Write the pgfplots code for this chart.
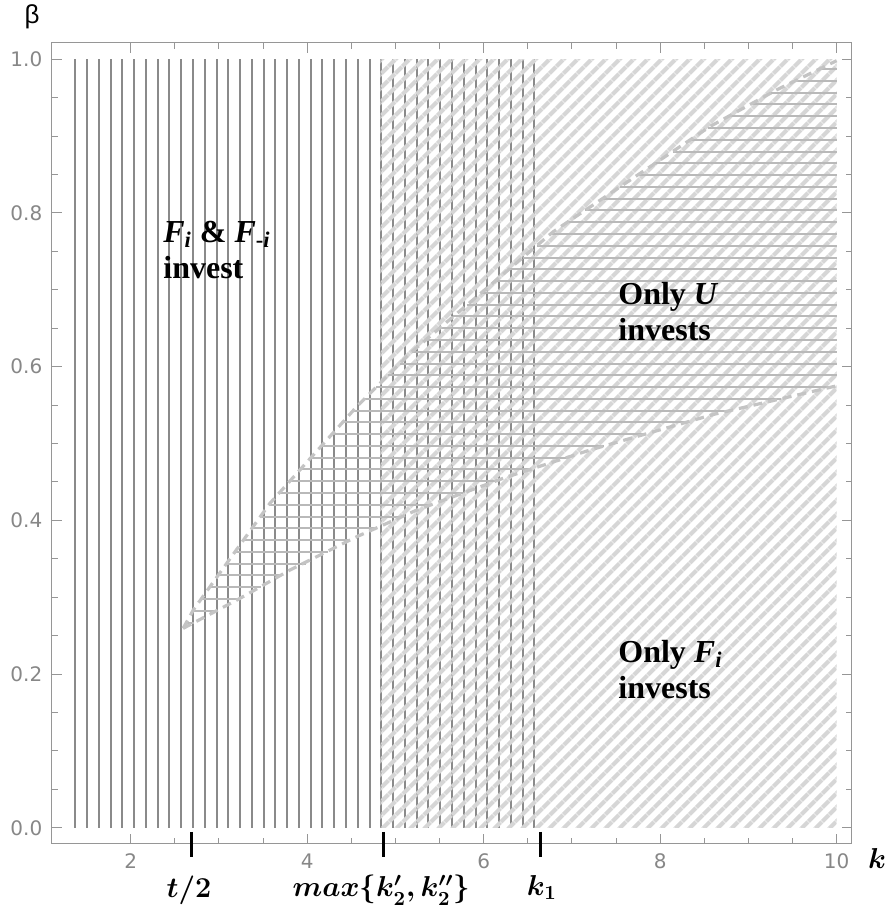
\documentclass[border=0pt]{standalone}
\usepackage[no-math]{fontspec}
\setmainfont{Liberation Serif}
\setsansfont{Liberation Sans}
\newfontfamily\tickfont{DejaVu Sans}
\usepackage{amsmath,amsbsy}
\usepackage{pgfplots}
\pgfplotsset{compat=1.18}
\usetikzlibrary{patterns.meta}
\definecolor{vline}{RGB}{138,138,138}
\definecolor{hline}{RGB}{185,185,185}
\definecolor{dline}{RGB}{214,214,214}
\definecolor{bline}{RGB}{196,196,196}
\definecolor{framec}{RGB}{150,150,150}
\definecolor{tickl}{RGB}{135,135,135}
\begin{document}
\begin{tikzpicture}
\useasboundingbox (0,0) rectangle (445.5pt,458.5pt);
\begin{axis}[
  at={(25.85pt,36.5pt)}, anchor=south west,
  scale only axis, width=400pt, height=400.5pt,
  xmin=1.105, xmax=10.17, ymin=-0.021, ymax=1.021,
  clip=false,
  unbounded coords=jump,
  axis line style={framec, line width=0.5pt},
  tick style={framec, line width=0.5pt},
  tick align=inside, tick pos=both,
  major tick length=5pt, minor tick length=3pt,
  xtick={2,4,6,8,10}, minor x tick num=3,
  ytick={0,0.2,0.4,0.6,0.8,1.0}, minor y tick num=3,
  /pgf/number format/assume math mode=true,
  yticklabel style={/pgf/number format/fixed, /pgf/number format/fixed zerofill, /pgf/number format/precision=1, xshift=-1.2pt},
  xticklabel style={yshift=-1.5pt},
  ticklabel style={font=\tickfont\fontsize{10}{12}\selectfont, text=tickl},
]
% vertical mesh lines
\addplot[vline, line width=1pt] coordinates {
(1.372,0) (1.372,1) (nan,nan) (1.505,0) (1.505,1) (nan,nan)
(1.639,0) (1.639,1) (nan,nan) (1.772,0) (1.772,1) (nan,nan)
(1.906,0) (1.906,1) (nan,nan) (2.039,0) (2.039,1) (nan,nan)
(2.172,0) (2.172,1) (nan,nan) (2.306,0) (2.306,1) (nan,nan)
(2.439,0) (2.439,1) (nan,nan) (2.573,0) (2.573,1) (nan,nan)
(2.706,0) (2.706,1) (nan,nan) (2.839,0) (2.839,1) (nan,nan)
(2.973,0) (2.973,1) (nan,nan) (3.106,0) (3.106,1) (nan,nan)
(3.240,0) (3.240,1) (nan,nan) (3.373,0) (3.373,1) (nan,nan)
(3.506,0) (3.506,1) (nan,nan) (3.640,0) (3.640,1) (nan,nan)
(3.773,0) (3.773,1) (nan,nan) (3.907,0) (3.907,1) (nan,nan)
(4.040,0) (4.040,1) (nan,nan) (4.173,0) (4.173,1) (nan,nan)
(4.307,0) (4.307,1) (nan,nan) (4.440,0) (4.440,1) (nan,nan)
(4.574,0) (4.574,1) (nan,nan) (4.707,0) (4.707,1) (nan,nan)
(4.840,0) (4.840,1) (nan,nan) (4.974,0) (4.974,1) (nan,nan)
(5.107,0) (5.107,1) (nan,nan) (5.241,0) (5.241,1) (nan,nan)
(5.374,0) (5.374,1) (nan,nan) (5.507,0) (5.507,1) (nan,nan)
(5.641,0) (5.641,1) (nan,nan) (5.774,0) (5.774,1) (nan,nan)
(5.908,0) (5.908,1) (nan,nan) (6.041,0) (6.041,1) (nan,nan)
(6.174,0) (6.174,1) (nan,nan) (6.308,0) (6.308,1) (nan,nan)
(6.441,0) (6.441,1) (nan,nan) (6.575,0) (6.575,1)
};
% diagonal hatched region
\addplot[draw=none, pattern={Lines[angle=45, distance=5.13pt, line width=2.4pt]}, pattern color=dline]
  coordinates {(4.83,0) (10,0) (10,1) (4.83,1)} -- cycle;
% horizontal mesh lines
\addplot[hline, line width=1pt] coordinates {
(2.630,0.2671) (2.719,0.2671) (nan,nan)
(2.705,0.2824) (2.971,0.2824) (nan,nan)
(2.799,0.2977) (3.224,0.2977) (nan,nan)
(2.894,0.3130) (3.477,0.3130) (nan,nan)
(2.990,0.3283) (3.730,0.3283) (nan,nan)
(3.085,0.3436) (3.982,0.3436) (nan,nan)
(3.181,0.3590) (4.235,0.3590) (nan,nan)
(3.277,0.3743) (4.488,0.3743) (nan,nan)
(3.373,0.3896) (4.775,0.3896) (nan,nan)
(3.470,0.4049) (5.075,0.4049) (nan,nan)
(3.566,0.4202) (5.403,0.4202) (nan,nan)
(3.682,0.4355) (5.767,0.4355) (nan,nan)
(3.802,0.4509) (6.130,0.4509) (nan,nan)
(3.922,0.4662) (6.524,0.4662) (nan,nan)
(4.042,0.4815) (6.936,0.4815) (nan,nan)
(4.161,0.4968) (7.365,0.4968) (nan,nan)
(4.281,0.5121) (7.828,0.5121) (nan,nan)
(4.401,0.5274) (8.290,0.5274) (nan,nan)
(4.521,0.5428) (8.790,0.5428) (nan,nan)
(4.650,0.5581) (9.365,0.5581) (nan,nan)
(4.783,0.5734) (9.939,0.5734) (nan,nan)
(4.916,0.5887) (10,0.5887) (nan,nan)
(5.050,0.6040) (10,0.6040) (nan,nan)
(5.186,0.6193) (10,0.6193) (nan,nan)
(5.343,0.6347) (10,0.6347) (nan,nan)
(5.500,0.6500) (10,0.6500) (nan,nan)
(5.657,0.6653) (10,0.6653) (nan,nan)
(5.815,0.6806) (10,0.6806) (nan,nan)
(5.972,0.6959) (10,0.6959) (nan,nan)
(6.129,0.7113) (10,0.7113) (nan,nan)
(6.286,0.7266) (10,0.7266) (nan,nan)
(6.443,0.7419) (10,0.7419) (nan,nan)
(6.600,0.7572) (10,0.7572) (nan,nan)
(6.757,0.7725) (10,0.7725) (nan,nan)
(6.948,0.7878) (10,0.7878) (nan,nan)
(7.147,0.8032) (10,0.8032) (nan,nan)
(7.345,0.8185) (10,0.8185) (nan,nan)
(7.544,0.8338) (10,0.8338) (nan,nan)
(7.743,0.8491) (10,0.8491) (nan,nan)
(7.942,0.8644) (10,0.8644) (nan,nan)
(8.141,0.8797) (10,0.8797) (nan,nan)
(8.340,0.8951) (10,0.8951) (nan,nan)
(8.539,0.9104) (10,0.9104) (nan,nan)
(8.776,0.9257) (10,0.9257) (nan,nan)
(9.018,0.9410) (10,0.9410) (nan,nan)
(9.261,0.9563) (10,0.9563) (nan,nan)
(9.528,0.9716) (10,0.9716) (nan,nan)
(9.802,0.9870) (10,0.9870)
};
% dashed boundaries
\addplot[bline, line width=1.6pt, dash pattern=on 4.5pt off 3pt] coordinates {
(2.594,0.2595) (2.709,0.2833) (3.088,0.3441) (3.578,0.4222) (4.561,0.5479)
(5.165,0.6173) (6.789,0.7756) (8.565,0.9124) (9.321,0.9601) (10,0.998)};
\addplot[bline, line width=1.6pt, dash pattern=on 4.5pt off 3pt] coordinates {
(2.594,0.2595) (3.238,0.2985) (3.805,0.3354) (4.561,0.3787) (5.244,0.4135)
(6.264,0.4565) (7.205,0.4915) (8.6,0.5377) (10,0.575)};
% thick annotation ticks
\addplot[black, line width=1.5pt] coordinates {(2.69,-0.0052) (2.69,-0.0385) (nan,nan) (4.86,-0.0052) (4.86,-0.0385) (nan,nan) (6.64,-0.0052) (6.64,-0.0385)};
% labels
\node[anchor=west, align=left, inner sep=0pt, font=\bfseries\fontsize{16}{18}\selectfont] at (axis cs:2.366,0.7518)
  {\textit{F}\textsubscript{\textit{i}} \& \textit{F}\textsubscript{-\textit{i}}\\invest};
\node[anchor=west, align=left, inner sep=0pt, font=\bfseries\fontsize{16}{18}\selectfont] at (axis cs:7.522,0.671)
  {Only \textit{U}\\invests};
\node[anchor=west, align=left, inner sep=0pt, font=\bfseries\fontsize{16}{18}\selectfont] at (axis cs:7.522,0.2065)
  {Only \textit{F}\textsubscript{\textit{i}}\\invests};
\node[font=\fontsize{14}{16}\selectfont] at (axis cs:2.661,-0.0811) {$\boldsymbol{t/2}$};
\node[font=\fontsize{14}{16}\selectfont] at (axis cs:4.84,-0.0811) {$\boldsymbol{max\{k_2', k_2''\}}$};
\node[font=\fontsize{14}{16}\selectfont] at (axis cs:6.66,-0.0780) {$\boldsymbol{k_1}$};
\node[font=\fontsize{15}{17}\selectfont] at (axis cs:10.457,-0.0394) {$\boldsymbol{k}$};
\node[font=\sffamily\fontsize{13}{15}\selectfont] at (axis cs:0.882,1.055) {β};
\end{axis}
\end{tikzpicture}
\end{document}
